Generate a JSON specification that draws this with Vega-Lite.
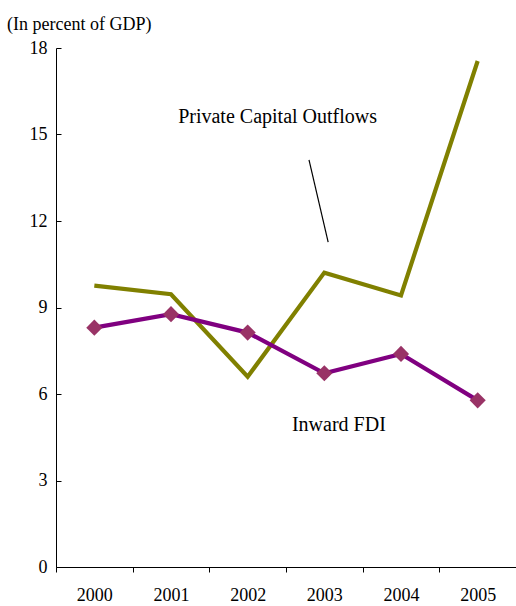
{
  "$schema": "https://vega.github.io/schema/vega-lite/v6.json",
  "width": 460,
  "height": 519,
  "autosize": "none",
  "padding": {"left": 56, "top": 48, "right": 0, "bottom": 39},
  "background": "white",
  "title": {
    "text": "(In percent of GDP)",
    "anchor": "start",
    "frame": "group",
    "dx": -49,
    "offset": 5,
    "font": "'Liberation Serif', 'Times New Roman', serif",
    "fontSize": 18,
    "fontWeight": "normal",
    "color": "black"
  },
  "config": {
    "view": {"stroke": null},
    "font": "'Liberation Serif', 'Times New Roman', serif",
    "axis": {
      "grid": false,
      "domainColor": "black",
      "domainWidth": 1,
      "tickColor": "black",
      "tickWidth": 1,
      "labelColor": "black",
      "labelFont": "'Liberation Serif', 'Times New Roman', serif",
      "labelFontSize": 18,
      "title": null
    }
  },
  "datasets": {
    "series": [
      {"year": 2000, "series": "Private Capital Outflows", "value": 9.76},
      {"year": 2001, "series": "Private Capital Outflows", "value": 9.46},
      {"year": 2002, "series": "Private Capital Outflows", "value": 6.6},
      {"year": 2003, "series": "Private Capital Outflows", "value": 10.21},
      {"year": 2004, "series": "Private Capital Outflows", "value": 9.42},
      {"year": 2005, "series": "Private Capital Outflows", "value": 17.55},
      {"year": 2000, "series": "Inward FDI", "value": 8.3},
      {"year": 2001, "series": "Inward FDI", "value": 8.77},
      {"year": 2002, "series": "Inward FDI", "value": 8.13},
      {"year": 2003, "series": "Inward FDI", "value": 6.72},
      {"year": 2004, "series": "Inward FDI", "value": 7.39},
      {"year": 2005, "series": "Inward FDI", "value": 5.78}
    ],
    "notes": [
      {"label": "Private Capital Outflows", "year": 2002.39, "value": 15.39},
      {"label": "Inward FDI", "year": 2003.19, "value": 4.73}
    ],
    "leader": [
      {"year": 2002.8, "year2": 2003.05, "value": 14.12, "value2": 11.27}
    ]
  },
  "layer": [
    {
      "data": {"name": "series"},
      "mark": {"type": "line", "strokeWidth": 4.2},
      "encoding": {
        "x": {
          "field": "year",
          "type": "quantitative",
          "scale": {"domain": [1999.5, 2005.5], "nice": false, "zero": false},
          "axis": {
            "values": [2000, 2001, 2002, 2003, 2004, 2005],
            "format": "d",
            "tickSize": 5,
            "tickOffset": -38.33,
            "labelOffset": 38.33,
            "labelPadding": 14
          }
        },
        "y": {
          "field": "value",
          "type": "quantitative",
          "scale": {"domain": [0, 18], "nice": false},
          "axis": {
            "values": [0, 3, 6, 9, 12, 15, 18],
            "tickSize": -5,
            "labelPadding": 14
          }
        },
        "color": {
          "field": "series",
          "type": "nominal",
          "scale": {
            "domain": ["Private Capital Outflows", "Inward FDI"],
            "range": ["#808000", "#800080"]
          },
          "legend": null
        }
      }
    },
    {
      "data": {"name": "series"},
      "transform": [{"filter": "datum.series === 'Inward FDI'"}],
      "mark": {
        "type": "point",
        "shape": "diamond",
        "filled": true,
        "size": 260,
        "opacity": 1,
        "color": "#993366"
      },
      "encoding": {
        "x": {"field": "year", "type": "quantitative"},
        "y": {"field": "value", "type": "quantitative"}
      }
    },
    {
      "data": {"name": "leader"},
      "mark": {"type": "rule", "color": "black", "strokeWidth": 1.2},
      "encoding": {
        "x": {"field": "year", "type": "quantitative"},
        "x2": {"field": "year2"},
        "y": {"field": "value", "type": "quantitative"},
        "y2": {"field": "value2"}
      }
    },
    {
      "data": {"name": "notes"},
      "mark": {
        "type": "text",
        "font": "'Liberation Serif', 'Times New Roman', serif",
        "fontSize": 20,
        "color": "black",
        "align": "center",
        "baseline": "alphabetic"
      },
      "encoding": {
        "x": {"field": "year", "type": "quantitative"},
        "y": {"field": "value", "type": "quantitative"},
        "text": {"field": "label"}
      }
    }
  ]
}
